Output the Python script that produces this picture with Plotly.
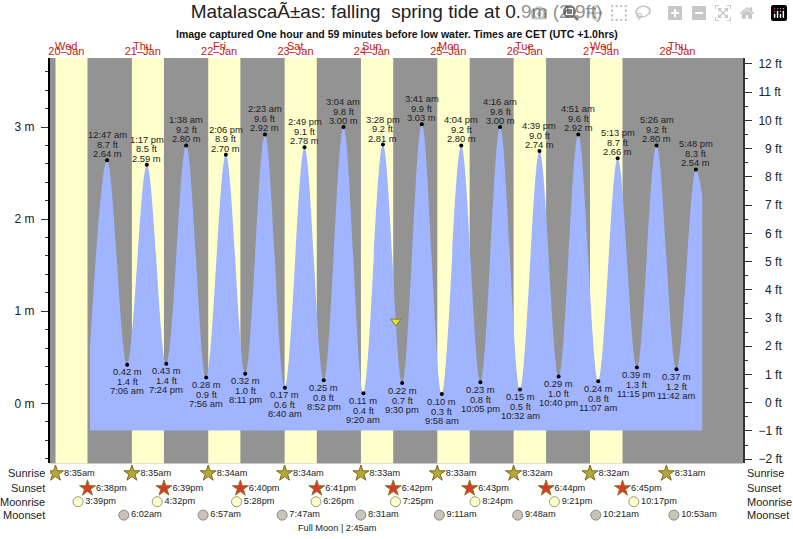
import plotly.graph_objects as go

# tide turning points, in time order (first and last are the ends of the drawn curve)
tide_times = [
    "2021-01-20 19:24",
    "2021-01-21 00:47", "2021-01-21 07:06", "2021-01-21 13:17", "2021-01-21 19:24",
    "2021-01-22 01:38", "2021-01-22 07:56", "2021-01-22 14:06", "2021-01-22 20:11",
    "2021-01-23 02:23", "2021-01-23 08:40", "2021-01-23 14:49", "2021-01-23 20:52",
    "2021-01-24 03:04", "2021-01-24 09:20", "2021-01-24 15:28", "2021-01-24 21:30",
    "2021-01-25 03:41", "2021-01-25 09:58", "2021-01-25 16:04", "2021-01-25 22:05",
    "2021-01-26 04:16", "2021-01-26 10:32", "2021-01-26 16:39", "2021-01-26 22:40",
    "2021-01-27 04:51", "2021-01-27 11:07", "2021-01-27 17:13", "2021-01-27 23:15",
    "2021-01-28 05:26", "2021-01-28 11:42", "2021-01-28 17:48",
    "2021-01-28 19:48",
]
tide_m = [
    0.60,
    2.64, 0.42, 2.59, 0.43,
    2.80, 0.28, 2.70, 0.32,
    2.92, 0.17, 2.78, 0.25,
    3.00, 0.11, 2.81, 0.22,
    3.03, 0.10, 2.80, 0.23,
    3.00, 0.15, 2.74, 0.29,
    2.92, 0.24, 2.66, 0.39,
    2.80, 0.37, 2.54,
    2.25,
]

# labels for the turning points (without the two curve ends)
tide_ft = [
    "8.7 ft", "1.4 ft", "8.5 ft", "1.4 ft", "9.2 ft", "0.9 ft", "8.9 ft", "1.0 ft",
    "9.6 ft", "0.6 ft", "9.1 ft", "0.8 ft", "9.8 ft", "0.4 ft", "9.2 ft", "0.7 ft",
    "9.9 ft", "0.3 ft", "9.2 ft", "0.8 ft", "9.8 ft", "0.5 ft", "9.0 ft", "1.0 ft",
    "9.6 ft", "0.8 ft", "8.7 ft", "1.3 ft", "9.2 ft", "1.2 ft", "8.3 ft",
]
tide_clock = [
    "12:47 am", "7:06 am", "1:17 pm", "7:24 pm", "1:38 am", "7:56 am", "2:06 pm", "8:11 pm",
    "2:23 am", "8:40 am", "2:49 pm", "8:52 pm", "3:04 am", "9:20 am", "3:28 pm", "9:30 pm",
    "3:41 am", "9:58 am", "4:04 pm", "10:05 pm", "4:16 am", "10:32 am", "4:39 pm", "10:40 pm",
    "4:51 am", "11:07 am", "5:13 pm", "11:15 pm", "5:26 am", "11:42 am", "5:48 pm",
]

now_time = "2021-01-24 19:31"
now_m = 0.89
tide_floor_m = -0.294

weekdays = ["Wed", "Thu", "Fri", "Sat", "Sun", "Mon", "Tue", "Wed", "Thu"]
day_labels = ["20–Jan", "21–Jan", "22–Jan", "23–Jan", "24–Jan", "25–Jan", "26–Jan", "27–Jan", "28–Jan"]
day_noons = [f"2021-01-{d} 12:00" for d in range(20, 29)]

sunrise_times = [f"2021-01-{d} {t}" for d, t in zip(range(20, 29), ["08:35", "08:35", "08:34", "08:34", "08:33", "08:33", "08:32", "08:32", "08:31"])]
sunrise_text = ["8:35am", "8:35am", "8:34am", "8:34am", "8:33am", "8:33am", "8:32am", "8:32am", "8:31am"]
sunset_times = [f"2021-01-{d} {t}" for d, t in zip(range(20, 28), ["18:38", "18:39", "18:40", "18:41", "18:42", "18:43", "18:44", "18:45"])]
sunset_text = ["6:38pm", "6:39pm", "6:40pm", "6:41pm", "6:42pm", "6:43pm", "6:44pm", "6:45pm"]
moonrise_times = [f"2021-01-{d} {t}" for d, t in zip(range(20, 28), ["15:39", "16:32", "17:28", "18:26", "19:25", "20:24", "21:21", "22:17"])]
moonrise_text = ["3:39pm", "4:32pm", "5:28pm", "6:26pm", "7:25pm", "8:24pm", "9:21pm", "10:17pm"]
moonset_times = [f"2021-01-{d} {t}" for d, t in zip(range(21, 29), ["06:02", "06:57", "07:47", "08:31", "09:11", "09:48", "10:21", "10:53"])]
moonset_text = ["6:02am", "6:57am", "7:47am", "8:31am", "9:11am", "9:48am", "10:21am", "10:53am"]

m_ticks = [0, 1, 2, 3]
m_labels = ["0 m", "1 m", "2 m", "3 m"]
ft_ticks = list(range(-2, 13))
ft_labels = ["−2 ft", "−1 ft"] + [f"\u00a0\u00a0{v} ft" for v in range(0, 10)] + ["10 ft", "11 ft", "12 ft"]

FONT = "Liberation Sans"
GREY = "#939393"
DAY = "#FFFFCC"
WATER = "#A0B4FF"
TEXT = "#222222"
STRIP = 73 / 481

fig = go.Figure()

# flat line for the water area to sit on
fig.add_trace(go.Scatter(x=[tide_times[0], tide_times[-1]], y=[tide_floor_m, tide_floor_m],
                         mode="lines", line=dict(width=0), hoverinfo="skip"))
fig.add_trace(go.Scatter(x=tide_times, y=tide_m, mode="lines", fill="tonexty", fillcolor=WATER,
                         line=dict(width=0, shape="spline", smoothing=1.0), hoverinfo="skip"))
fig.add_trace(go.Scatter(x=tide_times[1:-1], y=tide_m[1:-1], mode="markers",
                         marker=dict(color="black", size=4)))
fig.add_trace(go.Scatter(x=[now_time], y=[now_m], mode="markers",
                         marker=dict(symbol="triangle-down", color="#E6DF2A", size=9,
                                     line=dict(color="#8A7A20", width=1))))
# feet axis has no marks of its own, this only switches it on
fig.add_trace(go.Scatter(x=[tide_times[0]], y=[0], yaxis="y2", mode="markers",
                         marker=dict(opacity=0), hoverinfo="skip"))

# rows under the chart
rows = [
    ("Sunrise", 10, sunrise_times, sunrise_text, "star", 12, "#B5A834", "#7A6A24"),
    ("Sunset", 25, sunset_times, sunset_text, "star", 12, "#D93A26", "#8A7A2A"),
    ("Moonrise", 38.5, moonrise_times, moonrise_text, "circle", 10, "#FFFFCC", "#9A9A78"),
    ("Moonset", 52, moonset_times, moonset_text, "circle", 10, "#C8C4B8", "#8A8A80"),
]
for name, row_y, times, text, symbol, size, color, edge in rows:
    fig.add_trace(go.Scatter(x=times, y=[row_y] * len(times), yaxis="y3", mode="markers+text",
                             text=text, textposition="middle right",
                             textfont=dict(family=FONT, size=9.2, color=TEXT),
                             marker=dict(symbol=symbol, size=size, color=color,
                                         line=dict(color=edge, width=1))))
    fig.add_annotation(text=name, xref="paper", yref="y3", x=0, y=row_y, xanchor="right", xshift=-3,
                       showarrow=False, font=dict(family=FONT, size=11, color=TEXT))
    fig.add_annotation(text=name, xref="paper", yref="y3", x=1, y=row_y, xanchor="left", xshift=2,
                       showarrow=False, font=dict(family=FONT, size=11, color=TEXT))

fig.add_annotation(text="Full Moon | 2:45am", xref="x", yref="y3", x="2021-01-24 01:20", y=65,
                   showarrow=False, font=dict(family=FONT, size=9.2, color=TEXT))

# three lines of text at every turning point, highs above and lows below
for i, (t, m, ft, clock) in enumerate(zip(tide_times[1:-1], tide_m[1:-1], tide_ft, tide_clock)):
    if i % 2 == 0:
        lines = [(f"{m:.2f} m", 6.5), (ft, 16), (clock, 25.5)]
    else:
        lines = [(f"{m:.2f} m", -7), (ft, -17), (clock, -26)]
    for text, shift in lines:
        fig.add_annotation(text=text, x=t, y=m, xref="x", yref="y", yshift=shift, showarrow=False,
                           borderpad=0, font=dict(family=FONT, size=9.4, color=TEXT))

for noon, weekday in zip(day_noons, weekdays):
    fig.add_annotation(text=weekday, x=noon, xref="x", yref="paper", y=1, yshift=20, showarrow=False,
                       font=dict(family=FONT, size=11, color="#C8200F"))

fig.add_annotation(text="Image captured One hour and 59 minutes before low water. Times are CET (UTC +1.0hrs)",
                   xref="paper", yref="paper", x=0.5, y=1, yshift=32, showarrow=False,
                   font=dict(family=FONT, size=10.5, color="#111111", weight="bold"))

# night background with daylight bands
shapes = [dict(type="rect", xref="x domain", yref="y domain", x0=0, x1=1, y0=0, y1=1,
               fillcolor=GREY, line_width=0, layer="below")]
for rise, sset in zip(sunrise_times, sunset_times):
    shapes.append(dict(type="rect", xref="x", yref="y domain", x0=rise, x1=sset, y0=0, y1=1,
                       fillcolor=DAY, line_width=0, layer="below"))

fig.update_layout(
    width=793,
    height=539,
    margin=dict(l=50, r=50, t=58, b=0),
    showlegend=False,
    paper_bgcolor="white",
    plot_bgcolor="white",
    font=dict(family=FONT, color=TEXT),
    title=dict(text="MatalascaÃ±as: falling  spring tide at 0.9m (2.9ft)", x=0.5, xanchor="center",
               y=0.979, yanchor="middle", font=dict(family=FONT, size=19, color="#222222")),
    shapes=shapes,
    xaxis=dict(type="date", range=["2021-01-20 06:51", "2021-01-29 08:36"], anchor="y", side="top",
               tickmode="array", tickvals=day_noons, ticktext=day_labels, ticks="", showgrid=False,
               zeroline=False, showline=False, tickfont=dict(family=FONT, size=11, color="#C8200F")),
    yaxis=dict(domain=[STRIP, 1], range=[-0.653, 3.75], tickmode="array", tickvals=m_ticks,
               ticktext=m_labels, ticks="outside", ticklen=7, tickcolor="#333333", ticklabelstandoff=4,
               tickfont=dict(family=FONT, size=12, color=TEXT), showgrid=False, zeroline=False,
               showline=True, linecolor="black", linewidth=2,
               minor=dict(dtick=0.2, tick0=0, ticks="outside", ticklen=3, tickcolor="#333333", showgrid=False)),
    yaxis2=dict(domain=[STRIP, 1], overlaying="y", side="right", anchor="x", range=[-2.15, 12.21],
                tickmode="array", tickvals=ft_ticks, ticktext=ft_labels, ticks="outside", ticklen=7,
                tickcolor="#333333", ticklabelstandoff=4, tickfont=dict(family=FONT, size=12, color=TEXT),
                showgrid=False, zeroline=False, showline=True, linecolor="#333333", linewidth=2,
                minor=dict(dtick=0.5, tick0=0, ticks="outside", ticklen=3, tickcolor="#333333", showgrid=False)),
    yaxis3=dict(domain=[0, STRIP], range=[73, 0], anchor="x", visible=False, fixedrange=True),
)

# the browser's default page margin would push the figure off the window
fig.write_html("out.html", post_script="document.body.style.margin = '0';")
